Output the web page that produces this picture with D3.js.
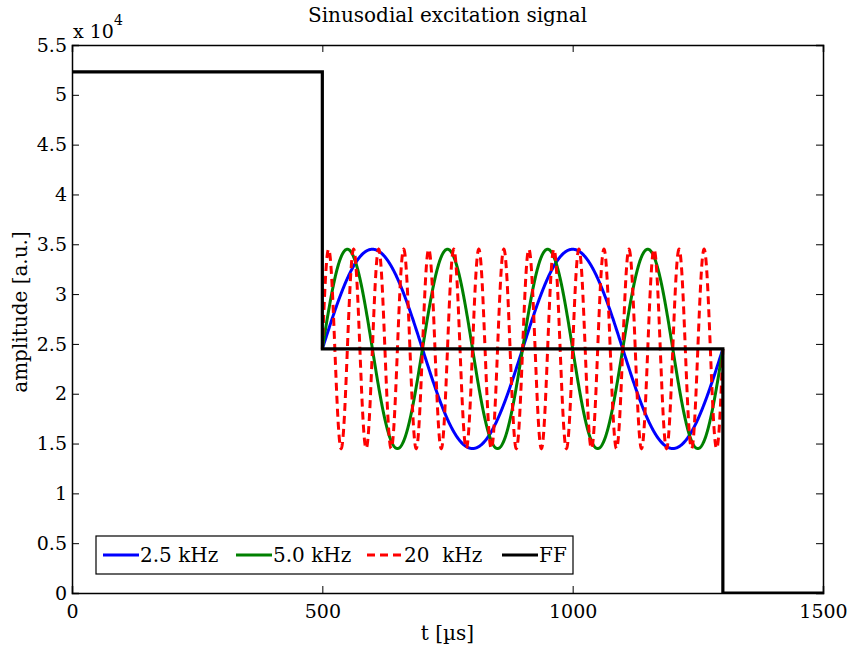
<!DOCTYPE html>
<html>
<head>
<meta charset="utf-8">
<script src="https://cdn.jsdelivr.net/npm/d3@7"></script>
<style>
  body { margin: 0; background: #fff; }
  svg text { font-family: "DejaVu Serif", "Liberation Serif", serif; fill: #000; }
</style>
</head>
<body>
<div id="chart"></div>
<script>
// series (amplitude in raw units, time in µs)
var seriesNames = ['2.5 kHz', '5.0 kHz', '20  kHz', 'FF'];
var seriesColors = ['#0000ff', '#008000', '#ff0000', '#000000'];
var sineFreqs = [2.5, 5.0, 20];      // kHz
var sineOffset = 24500;
var sineAmplitude = 10000;
var sineWindow = [500, 1300];        // µs
var ffTimes = [0, 500, 500, 1300, 1300, 1500];
var ffValues = [52300, 52300, 24500, 24500, 0, 0];
var xTicks = [0, 500, 1000, 1500];
var yTicks = [0, 5000, 10000, 15000, 20000, 25000, 30000, 35000, 40000, 45000, 50000, 55000];

var width = 848, height = 648;
var margin = { top: 45, right: 25, bottom: 55, left: 72 };
var w = width - margin.left - margin.right;
var h = height - margin.top - margin.bottom;
var fontSize = 20, tickSize = 19;
var dash = '8,5';

var svg = d3.select('#chart').append('svg')
    .attr('width', width)
    .attr('height', height);

var x = d3.scaleLinear().domain([0, 1500]).range([0, w]);
var y = d3.scaleLinear().domain([0, 55000]).range([h, 0]);

var plot = svg.append('g')
    .attr('transform', 'translate(' + margin.left + ',' + margin.top + ')');

plot.append('defs').append('clipPath').attr('id', 'clip')
    .append('rect').attr('width', w).attr('height', h);

var fmtX = function(d) { return String(d); };
var fmtY = function(d) { return String(d / 10000); };

// axes, matlab style: ticks inside on all four sides
var axes = [
    { axis: d3.axisBottom(x).tickValues(xTicks).tickSize(-7).tickPadding(12).tickFormat(fmtX), t: 'translate(0,' + h + ')' },
    { axis: d3.axisTop(x).tickValues(xTicks).tickSize(-7).tickFormat(''), t: 'translate(0,0)' },
    { axis: d3.axisLeft(y).tickValues(yTicks).tickSize(-7).tickPadding(5).tickFormat(fmtY), t: 'translate(0,0)' },
    { axis: d3.axisRight(y).tickValues(yTicks).tickSize(-7).tickFormat(''), t: 'translate(' + w + ',0)' }
];
axes.forEach(function(a) {
    var g = plot.append('g').attr('transform', a.t).call(a.axis);
    g.attr('font-family', null).attr('font-size', null);
    g.select('.domain').attr('stroke', '#000').attr('stroke-width', 1.5);
    g.selectAll('.tick line').attr('stroke', '#000').attr('stroke-width', 1);
    g.selectAll('.tick text').style('font-size', tickSize + 'px');
});

// x 10^4 multiplier
var mult = svg.append('text')
    .attr('x', margin.left + 1)
    .attr('y', margin.top - 7)
    .style('font-size', tickSize + 'px');
mult.append('tspan').text('x 10');
mult.append('tspan').attr('dy', -13).style('font-size', '14px').text('4');

var line = d3.line()
    .x(function(d) { return x(d[0]); })
    .y(function(d) { return y(d[1]); });

var lines = plot.append('g').attr('clip-path', 'url(#clip)');

sineFreqs.forEach(function(f, i) {
    var pts = d3.range(sineWindow[0], sineWindow[1] + 0.01, 0.5).map(function(t) {
        return [t, sineOffset + sineAmplitude * Math.sin(2 * Math.PI * f * (t - sineWindow[0]) / 1000)];
    });
    lines.append('path')
        .datum(pts)
        .attr('d', line)
        .attr('fill', 'none')
        .attr('stroke', seriesColors[i])
        .attr('stroke-width', 3)
        .attr('stroke-dasharray', i === 2 ? dash : null);
});

lines.append('path')
    .datum(d3.zip(ffTimes, ffValues))
    .attr('d', line)
    .attr('fill', 'none')
    .attr('stroke', seriesColors[3])
    .attr('stroke-width', 3.2);

// legend
var legend = svg.append('g').attr('transform', 'translate(96,536)');
legend.append('rect')
    .attr('width', 477).attr('height', 38)
    .attr('fill', '#fff').attr('stroke', '#000').attr('stroke-width', 1.2);
var legendX = [7, 140, 271, 406];
seriesNames.forEach(function(name, i) {
    var g = legend.append('g').attr('transform', 'translate(' + legendX[i] + ',0)');
    g.append('line')
        .attr('x1', 0).attr('x2', 36).attr('y1', 19).attr('y2', 19)
        .attr('stroke', seriesColors[i]).attr('stroke-width', 3)
        .attr('stroke-dasharray', i === 2 ? dash : null);
    g.append('text')
        .attr('x', 37).attr('y', 26)
        .style('font-size', fontSize + 'px')
        .style('white-space', 'pre')
        .text(name);
});

// titles
svg.append('text')
    .attr('x', margin.left + w / 2).attr('y', 22)
    .attr('text-anchor', 'middle').style('font-size', fontSize + 'px')
    .text('Sinusodial excitation signal');
svg.append('text')
    .attr('x', margin.left + w / 2).attr('y', 640)
    .attr('text-anchor', 'middle').style('font-size', fontSize + 'px')
    .text('t [µs]');
svg.append('text')
    .attr('transform', 'translate(27,312) rotate(-90)')
    .attr('text-anchor', 'middle').style('font-size', fontSize + 'px')
    .text('amplitude [a.u.]');
</script>
</body>
</html>
